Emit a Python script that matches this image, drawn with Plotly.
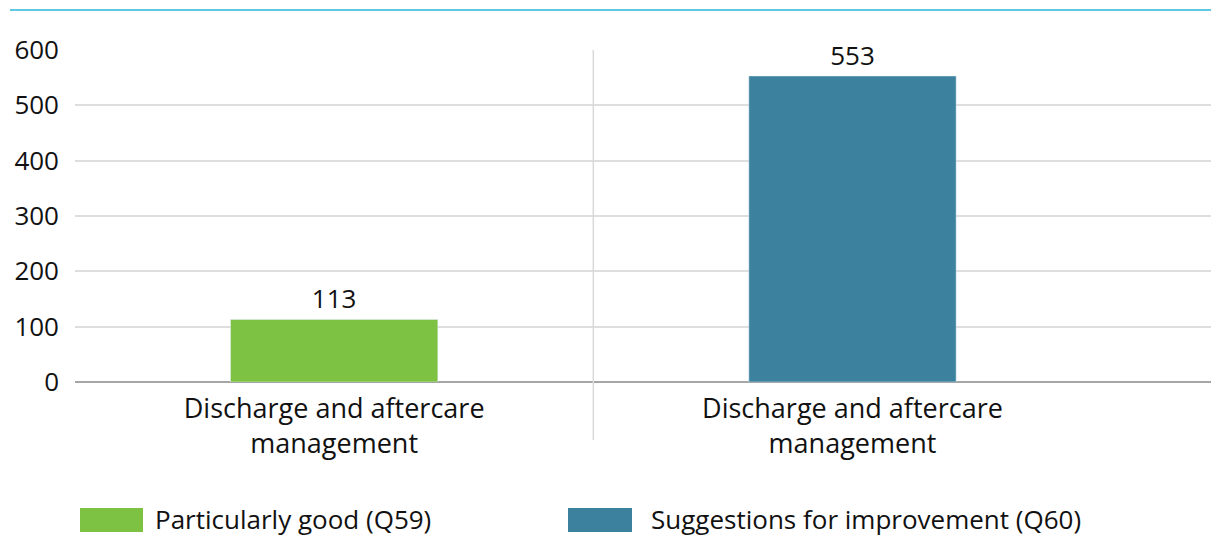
import plotly.graph_objects as go

categories = ["Discharge and aftercare<br>management", "Discharge and aftercare<br>management"]
series_names = ["Particularly good (Q59)", "Suggestions for improvement (Q60)"]
series_values = [113, 553]
series_colors = ["#7dc242", "#3c829e"]
y_ticks = [0, 100, 200, 300, 400, 500, 600]

FONT = "Open Sans, Liberation Sans, Arial, sans-serif"
OFF = 8  # default page body margin
W, H = 1219 - OFF, 541 - OFF
ml, mr, mt = 75 - OFF, 0, 50 - OFF
plot_bottom = 382 - OFF
mb = H - plot_bottom
pw, ph = W - ml - mr, H - mt - mb


def px_x(px):
    return (px - OFF - ml) / pw


def px_y(py):
    return (plot_bottom - (py - OFF)) / ph


fig = go.Figure()
for i, (name, val, col) in enumerate(zip(series_names, series_values, series_colors)):
    fig.add_trace(go.Bar(
        x=[i], y=[val], name=name, marker_color=col, width=0.4,
        text=[str(val)], textposition="outside", cliponaxis=False,
        textfont=dict(size=26, color="#111111", family=FONT),
        showlegend=False,
    ))

shapes = []
# divider between categories
shapes.append(dict(type="line", xref="x", yref="paper", x0=0.5, x1=0.5,
                   y0=1.0, y1=px_y(440), line=dict(color="#d9d9d9", width=1.5)))
# top rule
shapes.append(dict(type="line", xref="paper", yref="paper", x0=px_x(10), x1=1.0,
                   y0=px_y(10), y1=px_y(10), line=dict(color="#2bb6d6", width=1.5)))

annotations = []
legend_pos = [(80, 143, 153), (568, 632, 649)]
for (sx0, sx1, tx), name, col in zip(legend_pos, series_names, series_colors):
    shapes.append(dict(type="rect", xref="paper", yref="paper",
                       x0=px_x(sx0), x1=px_x(sx1),
                       y0=px_y(508), y1=px_y(532),
                       fillcolor=col, line=dict(width=0)))
    annotations.append(dict(xref="paper", yref="paper", x=px_x(tx), y=px_y(519),
                            text=name, showarrow=False, xanchor="left", yanchor="middle",
                            font=dict(size=26, color="#111111", family=FONT)))

fig.update_layout(
    width=W, height=H,
    margin=dict(l=ml, r=mr, t=mt, b=mb),
    paper_bgcolor="white", plot_bgcolor="white",
    shapes=shapes, annotations=annotations,
    showlegend=False,
)
fig.update_xaxes(
    range=[-0.5, (1219 - 333) / 519], tickvals=[0, 1], ticktext=categories,
    tickfont=dict(size=27, color="#111111", family=FONT),
    showgrid=False, zeroline=False, showline=False, ticks="",
    ticklabelstandoff=8,
)
fig.update_yaxes(
    range=[0, 600], tickvals=y_ticks, ticktext=[str(t) for t in y_ticks],
    tickfont=dict(size=26, color="#111111", family=FONT),
    showgrid=True, gridcolor="#dedede", gridwidth=1.5,
    zeroline=True, zerolinecolor="#a6a6a6", zerolinewidth=1.5,
    ticks="", ticklabelstandoff=15,
)
fig.write_html("out.html")
